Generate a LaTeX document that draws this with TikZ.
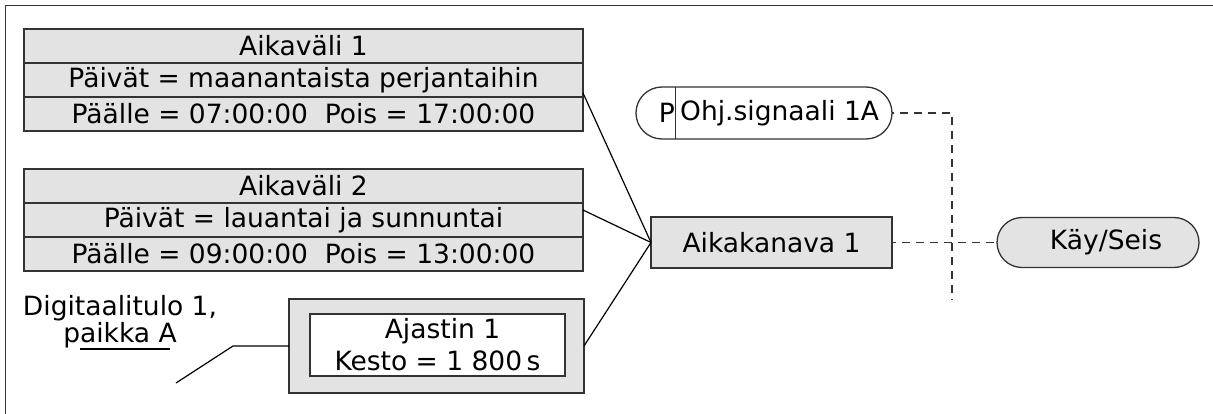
\documentclass[tikz,border=0pt]{standalone}
\usepackage{fontspec}
\setmainfont{DejaVu Sans}
\usepackage{xcolor}
\usepackage{tikz}
\usetikzlibrary{shapes.misc, positioning}
\definecolor{boxgray}{HTML}{E3E3E3}
\definecolor{edgegray}{HTML}{333333}
\tikzset{
  row/.style={rectangle, draw=edgegray, fill=boxgray, line width=1.5pt, outer sep=0pt, inner sep=0pt, minimum width=559pt, minimum height=34pt, font=\fontsize{26.5}{30}\selectfont},
  block/.style={rectangle, draw=edgegray, fill=boxgray, line width=1.5pt, outer sep=0pt, inner sep=0pt, align=center, font=\fontsize{26.5}{30}\selectfont},
  pill/.style={rounded rectangle, draw=edgegray, line width=1.3pt, outer sep=0pt, inner sep=0pt, font=\fontsize{26.5}{30}\selectfont},
  plain/.style={inner sep=0pt, font=\fontsize{26.5}{30}\selectfont},
  wire/.style={line width=1.2pt, black},
  dashline/.style={line width=1.4pt, edgegray, dash pattern=on 8pt off 6pt}
}
\begin{document}
\begin{tikzpicture}[x=1pt, y=-1pt]
  \useasboundingbox (0,0) rectangle (1213,414);
  \draw[line width=1.8pt, edgegray] (5.5,414) -- (5.5,5.5) -- (1213,5.5);
  % time intervals
  \node[row] (iv1a) at (303.5,46) {Aikaväli 1};
  \node[row, below=0pt of iv1a] (iv1b) {Päivät = maanantaista perjantaihin};
  \node[row, below=0pt of iv1b] (iv1c) {Päälle = 07:00:00\ \ Pois = 17:00:00};
  \node[row] (iv2a) at (303.5,186) {Aikaväli 2};
  \node[row, below=0pt of iv2a] (iv2b) {Päivät = lauantai ja sunnuntai};
  \node[row, below=0pt of iv2b] (iv2c) {Päälle = 09:00:00\ \ Pois = 13:00:00};
  % timer
  \node[block, minimum width=295pt, minimum height=94pt] (timer) at (436.5,346) {};
  \node[block, fill=white, line width=1.1pt, minimum width=255pt, minimum height=62pt,
        font=\fontsize{26.5}{32}\selectfont] (timerin) at (437.5,345) {\hspace*{10pt}Ajastin 1\\Kesto = 1 800\,s};
  \node[plain, align=center, font=\fontsize{26.5}{24}\selectfont] (dilabel) at (120,322) {Digitaalitulo 1,\\paikka A};
  \coordinate (wa) at (80,349);
  \coordinate (wb) at (170,349);
  \coordinate (sw) at (176,383);
  \coordinate (knee) at (233,346);
  % channel and outputs
  \node[block, minimum width=241pt, minimum height=51pt] (aika) at (771.5,242.5) {Aikakanava 1};
  \node[pill, minimum width=256pt, minimum height=52pt] (ohj) at (764,113) {};
  \node[plain, anchor=east] (ohjp) at (675,113) {P};
  \node[plain, anchor=west] (ohjtxt) at (680,113) {Ohj.signaali 1A};
  \node[pill, fill=boxgray, minimum width=202pt, minimum height=50pt] (kay) at (1098,242.5) {\hspace*{16pt}Käy/Seis};
  \coordinate (bustop) at (952,113);
  \coordinate (busend) at (952,300);
  % connectors
  \draw[line width=1pt, edgegray] (ohjp.east |- ohj.north) -- (ohjp.east |- ohj.south);
  \draw[wire] (wa) -- (wb);
  \draw[wire] (sw) -- (knee) -- (timer.west);
  \draw[wire] ([yshift=4pt]iv1b.south east) -- (aika.west);
  \draw[wire] ([yshift=-7pt]iv2b.north east) -- (aika.west);
  \draw[wire] (timer.east) -- (aika.west);
  \draw[dashline, dash phase=6pt] (ohj.east) -- (bustop) -- (busend);
  \draw[dashline, dash phase=4pt] (aika.east) -- (kay.west);
\end{tikzpicture}
\end{document}
